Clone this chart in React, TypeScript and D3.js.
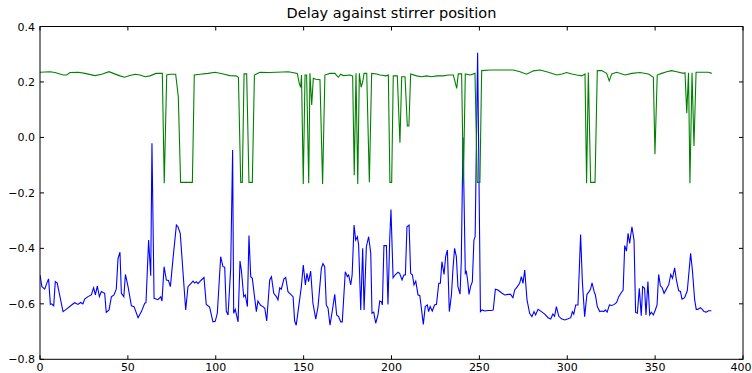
import React from "react";
import * as d3 from "d3";

const blueX = [0,1.1,2.7,4.2,4.9,5.9,6.6,7.8,8.7,9.8,13.1,14.9,17.8,19.7,21.6,23.1,24.4,25.4,27.3,29.2,30.5,31.5,32.6,33.8,34.9,36.8,37.7,39.3,40.6,42.1,43.4,44.4,45.5,46.3,47.7,48.6,50.1,52,53.5,55.8,57.7,59.6,60.3,61.8,63,63.7,64.9,67.1,68.7,69.4,70.6,71.9,73.1,74.2,75.7,77.6,78.5,79.8,82.9,84.2,87.1,88,89,89.9,91.8,93.3,94.6,96.5,98.4,99.7,100.9,102.8,104.1,105.1,106,107,108.5,109.6,110.2,111.1,112.7,113.8,114.6,115.9,116.8,118,118.9,119.9,120.8,123.1,124,125.5,126.9,127.9,129,130.7,131.7,133,134.5,135.4,136.4,137.3,138.8,139.8,141.1,144,144.9,145.8,147.2,148.7,149.8,151,151.9,152.8,154,155.3,156.9,158.2,160.1,161,162,162.9,163.9,165,166.1,167.7,168.8,169.9,171.1,172,173.7,174.9,175.6,176.8,177.6,178.7,179.6,180.6,181.3,182.5,183.6,184.4,185.7,187,188.2,188.9,189.9,191,192.3,193.3,194.2,194.8,195.7,197.1,198,199,199.7,200.9,202,203.7,204.6,206,207,207.9,208.8,210,210.9,211.9,212.8,213.8,215.1,216.1,217,218.1,219.2,220.4,221.1,222,223.2,224.5,225.6,226.9,227.8,228.7,229.9,230.8,231.8,232.9,234.1,235,235.9,236.9,237.8,239,239.7,240.7,242,242.6,243.3,244.1,245,246,246.9,247.6,249,250.6,251.5,253,254.9,256.8,257.9,259.1,260.6,262.5,264.4,266.3,267.8,269.1,270.1,271.6,272.9,273.9,274.8,275.8,277.1,278.6,279.9,281.1,282,283.4,285.3,287.2,289.1,290.6,291.8,292.8,293.8,295.2,296.7,298.6,300.5,302,302.9,303.7,304.8,306.1,307.6,308.6,309.9,311.2,312.4,313.3,314.1,315.3,316,317.1,318.5,319.8,320.8,321.7,322.7,324,325.3,326.8,328.1,329.3,330.9,331.8,332.7,333.7,334.6,335.5,336.8,338,338.9,339.9,341,342.1,342.9,344,344.8,345.9,346.9,347.8,349,350.1,351.1,352,353,354,355.1,356.4,357.8,358.9,359.9,361.1,362.1,363.4,364.4,365.3,366.8,368.3,369.1,370.2,371.2,372.5,373.4,374.3,375.7,376.6,377.8,379.1,380.4,382];
const blueY = [-0.496,-0.538,-0.547,-0.52,-0.51,-0.602,-0.6,-0.607,-0.52,-0.525,-0.628,-0.62,-0.605,-0.596,-0.602,-0.595,-0.6,-0.583,-0.574,-0.568,-0.542,-0.568,-0.536,-0.574,-0.556,-0.562,-0.631,-0.622,-0.575,-0.568,-0.547,-0.436,-0.414,-0.562,-0.574,-0.494,-0.538,-0.607,-0.61,-0.65,-0.628,-0.598,-0.596,-0.37,-0.499,-0.021,-0.58,-0.585,-0.575,-0.59,-0.466,-0.514,-0.516,-0.538,-0.436,-0.316,-0.322,-0.346,-0.622,-0.538,-0.518,-0.525,-0.52,-0.527,-0.514,-0.505,-0.602,-0.612,-0.665,-0.663,-0.634,-0.43,-0.466,-0.468,-0.626,-0.64,-0.472,-0.045,-0.634,-0.62,-0.665,-0.446,-0.48,-0.574,-0.568,-0.61,-0.354,-0.502,-0.508,-0.628,-0.59,-0.605,-0.61,-0.616,-0.662,-0.514,-0.502,-0.562,-0.574,-0.586,-0.542,-0.547,-0.51,-0.505,-0.556,-0.574,-0.662,-0.677,-0.61,-0.538,-0.46,-0.532,-0.49,-0.52,-0.482,-0.598,-0.655,-0.61,-0.472,-0.455,-0.466,-0.604,-0.616,-0.677,-0.634,-0.566,-0.64,-0.646,-0.665,-0.665,-0.484,-0.502,-0.496,-0.532,-0.496,-0.316,-0.37,-0.358,-0.388,-0.622,-0.4,-0.622,-0.394,-0.358,-0.418,-0.634,-0.63,-0.67,-0.64,-0.59,-0.592,-0.604,-0.39,-0.39,-0.602,-0.365,-0.26,-0.506,-0.496,-0.486,-0.49,-0.514,-0.496,-0.496,-0.322,-0.316,-0.49,-0.496,-0.532,-0.518,-0.568,-0.57,-0.616,-0.674,-0.61,-0.604,-0.628,-0.61,-0.626,-0.604,-0.602,-0.526,-0.526,-0.448,-0.494,-0.43,-0.406,-0.628,-0.568,-0.472,-0.4,-0.43,-0.538,-0.565,-0.448,0.0,-0.49,-0.484,-0.514,-0.566,-0.538,-0.52,-0.37,-0.358,0.305,-0.628,-0.622,-0.626,-0.624,-0.624,-0.622,-0.547,-0.55,-0.56,-0.568,-0.566,-0.566,-0.578,-0.55,-0.538,-0.526,-0.502,-0.526,-0.478,-0.586,-0.634,-0.646,-0.628,-0.64,-0.62,-0.628,-0.637,-0.65,-0.655,-0.637,-0.645,-0.61,-0.645,-0.654,-0.658,-0.654,-0.65,-0.628,-0.637,-0.604,-0.604,-0.35,-0.52,-0.646,-0.566,-0.556,-0.547,-0.524,-0.556,-0.568,-0.61,-0.628,-0.626,-0.628,-0.622,-0.63,-0.604,-0.606,-0.602,-0.595,-0.574,-0.558,-0.55,-0.39,-0.41,-0.346,-0.382,-0.322,-0.37,-0.631,-0.634,-0.544,-0.643,-0.538,-0.544,-0.64,-0.52,-0.64,-0.63,-0.64,-0.622,-0.604,-0.494,-0.535,-0.542,-0.562,-0.547,-0.53,-0.494,-0.508,-0.47,-0.514,-0.553,-0.555,-0.583,-0.578,-0.553,-0.496,-0.418,-0.478,-0.586,-0.62,-0.62,-0.614,-0.618,-0.628,-0.63,-0.625,-0.625];

const greenX = [0,5.7,8.5,13.3,15.2,17.1,21.8,25.6,31.3,35.1,39.3,41.7,45.5,48,51.2,54.1,56.9,59.7,62.6,66,69.6,70.7,72.1,74,77.2,78.7,80,86.7,87.8,91,95.7,99.6,104.3,108.1,111.5,112.9,114.2,115.1,116.1,117.6,118.9,120.8,122,125.2,129.9,134.7,141.3,146.4,147.5,148.3,148.8,149.8,150.8,151.7,152.9,153.6,154.6,155.5,157,159.3,160.8,162.1,165,167.8,169.7,171.1,172.6,176.4,177.9,178.8,179.8,180.8,181.7,182.7,183.6,184.4,185.9,187.4,188.7,191.6,193.5,196.9,198.2,199.1,200.1,201,203.3,204.8,205.8,207.7,209,209.9,210.9,214.3,217.2,220,222.9,225.8,229.5,232.4,235.2,237.1,238,239.9,240.9,242,244.8,247.5,248.8,250.3,251.3,256,263.6,269.3,273.1,276.9,280.7,284.5,289.3,294,296.9,299.7,302.6,305.4,308.3,310.1,311,312,313.3,315.8,317.1,319.6,322.4,323.9,325.3,328.1,332.9,336.7,341.4,346.2,349,349.9,351.2,353.7,356.6,359.4,362.3,366.1,367,368,369,369.8,371,372.1,373.3,376.5,380.3,382.2];
const greenY = [0.235,0.237,0.234,0.225,0.225,0.234,0.235,0.231,0.223,0.228,0.237,0.231,0.222,0.217,0.223,0.228,0.225,0.219,0.222,0.231,0.231,-0.165,0.225,0.228,0.228,0.147,-0.162,-0.162,0.225,0.228,0.231,0.235,0.229,0.223,0.222,0.217,-0.162,-0.162,0.229,0.229,-0.162,-0.162,0.225,0.235,0.234,0.235,0.237,0.231,0.195,0.181,0.225,-0.168,0.225,0.225,-0.165,0.231,0.117,0.213,0.21,0.208,-0.168,0.225,0.231,0.231,0.217,0.228,0.223,0.225,0.222,-0.136,0.231,-0.168,0.231,0.181,0.2,0.231,0.231,-0.162,0.231,0.229,0.225,0.222,0.225,-0.162,-0.162,0.222,0.222,-0.019,0.219,0.219,0.041,0.041,0.229,0.222,0.219,0.222,0.219,0.222,0.222,0.225,0.225,0.177,0.229,0.229,-0.165,0.229,0.225,0.231,-0.162,-0.162,0.241,0.243,0.243,0.243,0.237,0.228,0.24,0.243,0.235,0.225,0.229,0.234,0.229,0.225,0.222,0.229,-0.165,0.234,-0.162,-0.162,0.241,0.241,0.231,0.204,0.229,0.235,0.225,0.231,0.234,0.229,0.217,-0.061,0.225,0.231,0.237,0.241,0.237,0.231,0.233,0.087,0.233,-0.165,0.233,-0.031,0.235,0.235,0.235,0.231];

const xTicks = [0, 50, 100, 150, 200, 250, 300, 350, 400];
const yTicks = [-0.8, -0.6, -0.4, -0.2, 0.0, 0.2, 0.4];
const title = "Delay against stirrer position";

const W = 752, H = 373;
const L = 40, R = 743, T = 26.5, B = 359.3;
const FONT = "'DejaVu Sans', sans-serif";
const TICK_FS = 11;

export default function App() {
  const x = d3.scaleLinear().domain([0, 400]).range([L, R]);
  const y = d3.scaleLinear().domain([-0.8, 0.4]).range([B, T]);
  const line = d3.line<[number, number]>().x(d => x(d[0])).y(d => y(d[1]));
  const blue: [number, number][] = blueX.map((v, i) => [v, blueY[i]]);
  const green: [number, number][] = greenX.map((v, i) => [v, greenY[i]]);
  const fmt = d3.format(".1f");
  const tl = 4;
  return (
    <svg width={W} height={H} style={{ position: "absolute", left: 0, top: 0, background: "#fff" }} fontFamily={FONT}>
      <defs>
        <clipPath id="pa"><rect x={L} y={T} width={R - L} height={B - T} /></clipPath>
      </defs>
      <text x={(L + R) / 2} y={18} textAnchor="middle" fontSize={14.5} fill="#000">{title}</text>
      <g clipPath="url(#pa)">
        <path d={line(blue) || ""} fill="none" stroke="#0000ff" strokeWidth={1.1} />
        <path d={line(green) || ""} fill="none" stroke="#008000" strokeWidth={1.1} />
      </g>
      <rect x={L} y={T} width={R - L} height={B - T} fill="none" stroke="#000" strokeWidth={1} />
      {xTicks.map(t => (
        <g key={"x" + t}>
          <line x1={x(t)} x2={x(t)} y1={B} y2={B - tl} stroke="#000" />
          <line x1={x(t)} x2={x(t)} y1={T} y2={T + tl} stroke="#000" />
          <text x={Math.min(x(t), W - 11)} y={370.5} textAnchor="middle" fontSize={TICK_FS} fill="#000">{t}</text>
        </g>
      ))}
      {yTicks.map(t => (
        <g key={"y" + t}>
          <line x1={L} x2={L + tl} y1={y(t)} y2={y(t)} stroke="#000" />
          <line x1={R} x2={R - tl} y1={y(t)} y2={y(t)} stroke="#000" />
          <text x={L - 5} y={y(t) + 4} textAnchor="end" fontSize={TICK_FS} fill="#000">{fmt(t)}</text>
        </g>
      ))}
    </svg>
  );
}
